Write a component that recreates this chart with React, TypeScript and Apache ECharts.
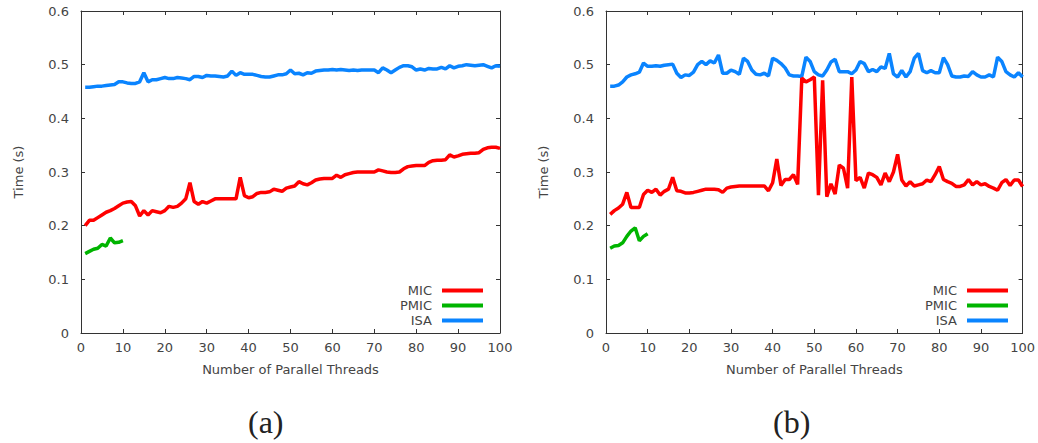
import React, { useEffect, useRef } from "react";
import * as echarts from "echarts";

const threads: number[] = Array.from({ length: 100 }, (_, i) => i + 1);
const pmicThreads: number[] = threads.slice(0, 10);

const xTicks = { min: 0, max: 100, interval: 10 };
const yTicks = { min: 0, max: 0.6, interval: 0.1 };

const seriesNames = ["MIC", "PMIC", "ISA"];
const panelLabels = ["(a)", "(b)"];

// panel (a)
const micA = [
  0.2, 0.21, 0.21, 0.215, 0.22, 0.225, 0.228, 0.232, 0.237, 0.242,
  0.244, 0.245, 0.237, 0.218, 0.228, 0.22, 0.228, 0.226, 0.224, 0.228,
  0.236, 0.234, 0.236, 0.242, 0.25, 0.28, 0.245, 0.24, 0.245, 0.242,
  0.246, 0.25, 0.25, 0.25, 0.25, 0.25, 0.25, 0.29, 0.256, 0.252,
  0.254, 0.26, 0.262, 0.262, 0.263, 0.268, 0.266, 0.264, 0.27, 0.272,
  0.274, 0.282, 0.278, 0.276, 0.28, 0.285, 0.287, 0.288, 0.288, 0.288,
  0.294, 0.29, 0.295, 0.297, 0.299, 0.3, 0.3, 0.3, 0.3, 0.3,
  0.304, 0.302, 0.3, 0.299, 0.299, 0.3, 0.306, 0.31, 0.311, 0.312,
  0.312, 0.312, 0.318, 0.321, 0.322, 0.322, 0.323, 0.332, 0.328, 0.33,
  0.333, 0.334, 0.335, 0.335, 0.336, 0.342, 0.345, 0.346, 0.346, 0.344,
];
const pmicA = [0.148, 0.152, 0.156, 0.158, 0.165, 0.162, 0.177, 0.168, 0.169, 0.172];
const isaA = [
  0.458, 0.458, 0.459, 0.46, 0.46, 0.461, 0.462, 0.463, 0.468, 0.468,
  0.466, 0.465, 0.465, 0.468, 0.485, 0.468, 0.472, 0.472, 0.474, 0.476,
  0.474, 0.474, 0.476, 0.475, 0.474, 0.472, 0.478, 0.478, 0.476, 0.48,
  0.479, 0.479, 0.478, 0.477, 0.479, 0.488, 0.48, 0.485, 0.482, 0.482,
  0.482, 0.48, 0.478, 0.477, 0.477, 0.479, 0.481, 0.481, 0.483, 0.49,
  0.483, 0.484, 0.481, 0.485, 0.484, 0.488, 0.489, 0.49, 0.49, 0.491,
  0.49, 0.491, 0.49, 0.489, 0.49, 0.489, 0.49, 0.49, 0.49, 0.49,
  0.485, 0.494, 0.49, 0.485, 0.49, 0.495, 0.498, 0.498, 0.496, 0.49,
  0.492, 0.49, 0.493, 0.492, 0.492, 0.495, 0.492, 0.498, 0.494, 0.497,
  0.498, 0.5, 0.499, 0.498, 0.499, 0.5, 0.497, 0.494, 0.498, 0.497,
];

// panel (b)
const micB = [
  0.221, 0.228, 0.233, 0.24, 0.262, 0.234, 0.234, 0.234, 0.258, 0.266,
  0.262, 0.268, 0.257, 0.264, 0.268, 0.29, 0.265, 0.264, 0.261, 0.261,
  0.262, 0.264, 0.266, 0.268, 0.268, 0.268, 0.267, 0.262, 0.27, 0.272,
  0.273, 0.274, 0.274, 0.274, 0.274, 0.274, 0.274, 0.274, 0.265, 0.28,
  0.324, 0.275, 0.286, 0.286, 0.295, 0.277, 0.475, 0.468, 0.472, 0.477,
  0.257, 0.471, 0.254, 0.278, 0.259, 0.313, 0.307, 0.27, 0.477, 0.284,
  0.29, 0.27, 0.298, 0.295, 0.29, 0.276, 0.298, 0.282, 0.3, 0.333,
  0.285, 0.274, 0.282, 0.274, 0.276, 0.278, 0.285, 0.282, 0.295, 0.31,
  0.286, 0.282, 0.279, 0.273, 0.273, 0.276, 0.286, 0.276, 0.282, 0.276,
  0.278, 0.273, 0.27, 0.266, 0.28, 0.286, 0.275, 0.285, 0.285, 0.273,
];
const pmicB = [0.158, 0.162, 0.163, 0.168, 0.18, 0.19, 0.196, 0.172, 0.18, 0.185];
const isaB = [
  0.46, 0.46, 0.462, 0.468, 0.477, 0.481, 0.483, 0.486, 0.503, 0.497,
  0.497, 0.498, 0.497, 0.499, 0.5, 0.501, 0.484, 0.476, 0.481, 0.48,
  0.486, 0.5, 0.506, 0.5, 0.507, 0.503, 0.518, 0.484, 0.484, 0.49,
  0.487, 0.482, 0.512, 0.506, 0.49, 0.482, 0.481, 0.484, 0.479, 0.512,
  0.508, 0.502, 0.494, 0.481, 0.479, 0.479, 0.478, 0.514, 0.506, 0.487,
  0.481, 0.479, 0.49, 0.505, 0.51, 0.487, 0.487, 0.487, 0.483, 0.49,
  0.506, 0.502, 0.487, 0.491, 0.487, 0.496, 0.493, 0.521, 0.483, 0.477,
  0.489, 0.477, 0.487, 0.512, 0.521, 0.489, 0.485, 0.489, 0.485, 0.485,
  0.513, 0.5, 0.479, 0.477, 0.477, 0.479, 0.478, 0.487, 0.481, 0.477,
  0.477, 0.481, 0.477, 0.514, 0.506, 0.487, 0.481, 0.477, 0.485, 0.477,
];

const colors = ["#ff0000", "#00b400", "#0a84ff"];
const FONT = "DejaVu Sans";
const FS = 13;
const AXIS_COLOR = "#333";
const LABEL_COLOR = "#444";

function pairs(xs: number[], ys: number[]) {
  return ys.map((v, i) => [xs[i], v]);
}

export default function App() {
  const ref = useRef<HTMLDivElement>(null);
  useEffect(() => {
    if (!ref.current) return;
    const chart = echarts.init(ref.current, undefined, { renderer: "svg" });
    const grids = [
      { left: 81, top: 11, width: 419, height: 322 },
      { left: 606, top: 11, width: 419, height: 322 },
    ];
    const xAxes: any[] = [];
    const yAxes: any[] = [];
    grids.forEach((_, gi) => {
      xAxes.push({
        type: "value",
        gridIndex: gi,
        ...xTicks,
        position: "bottom",
        name: "Number of Parallel Threads",
        nameLocation: "middle",
        nameGap: 30,
        nameTextStyle: { fontFamily: FONT, fontSize: FS, color: LABEL_COLOR },
        axisLine: { show: true, onZero: false, lineStyle: { color: AXIS_COLOR, width: 1 } },
        axisTick: { show: true, inside: true, length: 4, lineStyle: { color: AXIS_COLOR } },
        axisLabel: { fontFamily: FONT, fontSize: FS, color: LABEL_COLOR, margin: 8 },
        splitLine: { show: false },
      });
      xAxes.push({
        type: "value",
        gridIndex: gi,
        ...xTicks,
        position: "top",
        axisLine: { show: true, onZero: false, lineStyle: { color: AXIS_COLOR, width: 1 } },
        axisTick: { show: true, inside: true, length: 4, lineStyle: { color: AXIS_COLOR } },
        axisLabel: { show: false },
        splitLine: { show: false },
      });
      yAxes.push({
        type: "value",
        gridIndex: gi,
        ...yTicks,
        position: "left",
        name: "Time (s)",
        nameLocation: "middle",
        nameGap: 56,
        nameTextStyle: { fontFamily: FONT, fontSize: FS, color: LABEL_COLOR },
        axisLine: { show: true, onZero: false, lineStyle: { color: AXIS_COLOR, width: 1 } },
        axisTick: { show: true, inside: true, length: 4, lineStyle: { color: AXIS_COLOR } },
        axisLabel: { fontFamily: FONT, fontSize: FS, color: LABEL_COLOR, margin: 12 },
        splitLine: { show: false },
      });
      yAxes.push({
        type: "value",
        gridIndex: gi,
        ...yTicks,
        position: "right",
        axisLine: { show: true, onZero: false, lineStyle: { color: AXIS_COLOR, width: 1 } },
        axisTick: { show: true, inside: true, length: 4, lineStyle: { color: AXIS_COLOR } },
        axisLabel: { show: false },
        splitLine: { show: false },
      });
    });

    const panelData = [
      [pairs(threads, micA), pairs(pmicThreads, pmicA), pairs(threads, isaA)],
      [pairs(threads, micB), pairs(pmicThreads, pmicB), pairs(threads, isaB)],
    ];
    const series: any[] = [];
    panelData.forEach((sets, gi) => {
      sets.forEach((data, si) => {
        series.push({
          type: "line",
          name: seriesNames[si],
          xAxisIndex: gi * 2,
          yAxisIndex: gi * 2,
          data,
          showSymbol: false,
          symbol: "none",
          smooth: false,
          lineStyle: { color: colors[si], width: 3.5 },
          itemStyle: { color: colors[si] },
          z: 3 - si,
        });
      });
    });

    const legendBase = {
      orient: "vertical",
      align: "right",
      icon: "rect",
      itemWidth: 41,
      itemHeight: 4,
      itemGap: 2,
      padding: 0,
      selectedMode: false,
      data: seriesNames,
      textStyle: { fontFamily: FONT, fontSize: FS, color: LABEL_COLOR, padding: [0, 5, 0, 0] },
    };

    chart.setOption({
      animation: false,
      color: colors,
      grid: grids,
      xAxis: xAxes,
      yAxis: yAxes,
      series,
      legend: [
        { ...legendBase, right: 555, top: 284 },
        { ...legendBase, right: 30, top: 284 },
      ],
      graphic: [
        {
          type: "text",
          left: 248,
          top: 406,
          style: { text: panelLabels[0], font: "32px 'Liberation Serif'", fill: "#222" },
        },
        {
          type: "text",
          left: 773,
          top: 406,
          style: { text: panelLabels[1], font: "32px 'Liberation Serif'", fill: "#222" },
        },
      ],
    });
    return () => chart.dispose();
  }, []);
  return (
    <div
      ref={ref}
      style={{ position: "absolute", left: 0, top: 0, width: 1038, height: 443, background: "#fff" }}
    />
  );
}
